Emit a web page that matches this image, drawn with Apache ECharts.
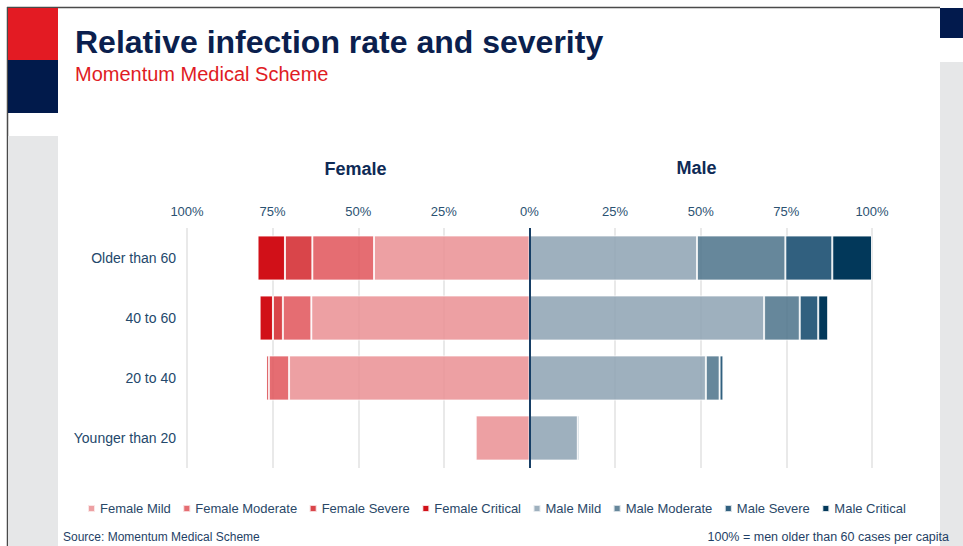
<!DOCTYPE html>
<html>
<head>
<meta charset="utf-8">
<script src="https://cdn.jsdelivr.net/npm/echarts@6/dist/echarts.min.js"></script>
<style>
html,body{margin:0;padding:0;background:#fff;}
#chart{width:963px;height:546px;}
</style>
</head>
<body>
<div id="chart"></div>
<script>
// ---- data ----
const categories = ['Older than 60', '40 to 60', '20 to 40', 'Younger than 20'];
const femaleMild     = [45.4, 63.7, 70.2, 15.7];
const femaleModerate = [18.0, 8.3, 5.9, 0.3];
const femaleSevere   = [8.0, 2.9, 0.8, 0];
const femaleCritical = [8.0, 3.9, 0, 0];
const maleMild       = [48.9, 68.5, 51.5, 14.1];
const maleModerate   = [25.8, 10.4, 4.0, 0.5];
const maleSevere     = [13.7, 5.4, 1.1, 0];
const maleCritical   = [11.6, 2.9, 0.2, 0];

const FONT = '"Liberation Sans", Arial, sans-serif';
const chart = echarts.init(document.getElementById('chart'), null, {renderer: 'svg'});

function bar(name, values, color, opacity, stack, neg, withZero) {
  const s = {
    name: name,
    type: 'bar',
    stack: stack,
    barWidth: '75%',
    barGap: '-100%',
    data: values.map(v => neg ? -v : v),
    itemStyle: {color: color, opacity: opacity, borderColor: 'rgba(255,255,255,0.85)', borderWidth: 1},
    emphasis: {disabled: true}
  };
  if (withZero) {
    s.markLine = {
      silent: true, symbol: 'none', label: {show: false},
      lineStyle: {color: '#173f66', width: 2, type: 'solid'},
      data: [{xAxis: 0}]
    };
  }
  return s;
}

const option = {
  animation: false,
  backgroundColor: '#ffffff',
  textStyle: {fontFamily: FONT},
  grid: {left: 187, right: 91, top: 228, bottom: 78},
  xAxis: {
    type: 'value', position: 'top', min: -100, max: 100, interval: 25,
    axisLine: {show: false}, axisTick: {show: false},
    axisLabel: {formatter: v => Math.abs(v) + '%', fontSize: 13, color: '#2b5272', margin: 10, fontFamily: FONT},
    splitLine: {lineStyle: {color: '#e2e2e2', width: 1.5}}
  },
  yAxis: {
    type: 'category', inverse: true, data: categories,
    axisLine: {show: false}, axisTick: {show: false},
    axisLabel: {fontSize: 14, color: '#23486b', margin: 11, fontFamily: FONT}
  },
  legend: {
    left: 82, top: 497, icon: 'rect', itemWidth: 7, itemHeight: 7, itemGap: 11.5,
    textStyle: {fontSize: 13, color: '#2a4868', fontFamily: FONT},
    data: ['Female Mild', 'Female Moderate', 'Female Severe', 'Female Critical',
           'Male Mild', 'Male Moderate', 'Male Severe', 'Male Critical']
  },
  series: [
    bar('Female Mild', femaleMild, '#ea8f93', 0.85, 'f', true, false),
    bar('Female Moderate', femaleModerate, '#e05459', 0.85, 'f', true, false),
    bar('Female Severe', femaleSevere, '#d6353b', 0.92, 'f', true, false),
    bar('Female Critical', femaleCritical, '#d11018', 1, 'f', true, false),
    bar('Male Mild', maleMild, '#8da2b3', 0.85, 'm', false, false),
    bar('Male Moderate', maleModerate, '#4b7289', 0.85, 'm', false, false),
    bar('Male Severe', maleSevere, '#1f5274', 0.92, 'm', false, false),
    bar('Male Critical', maleCritical, '#02385a', 1, 'm', false, true)
  ],
  graphic: [
    // frame lines
    {type: 'line', shape: {x1: 7, y1: 7.5, x2: 940, y2: 7.5}, style: {stroke: '#4a4a4a', lineWidth: 1.5}, silent: true},
    {type: 'line', shape: {x1: 7.5, y1: 7, x2: 7.5, y2: 546}, style: {stroke: '#4a4a4a', lineWidth: 1.5}, silent: true},
    // left decorations
    {type: 'rect', shape: {x: 8, y: 8, width: 50, height: 52}, style: {fill: '#e31b23'}, silent: true},
    {type: 'rect', shape: {x: 8, y: 60, width: 50, height: 53}, style: {fill: '#011a4b'}, silent: true},
    {type: 'rect', shape: {x: 8, y: 136, width: 50, height: 410}, style: {fill: '#e6e7e8'}, silent: true},
    // right decorations
    {type: 'rect', shape: {x: 940, y: 8, width: 23, height: 30}, style: {fill: '#021a4d'}, silent: true},
    {type: 'rect', shape: {x: 940, y: 62, width: 23, height: 484}, style: {fill: '#e6e7e8'}, silent: true},
    // titles
    {type: 'text', left: 75, top: 26, style: {text: 'Relative infection rate and severity', fill: '#0b1f4e', font: 'bold 32px ' + FONT}, silent: true},
    {type: 'text', left: 75, top: 64, style: {text: 'Momentum Medical Scheme', fill: '#e01b24', font: '20px ' + FONT}, silent: true},
    // panel headers
    {type: 'text', x: 355.5, y: 169, style: {text: 'Female', fill: '#0e2a55', font: 'bold 18px ' + FONT, align: 'center', verticalAlign: 'middle'}, silent: true},
    {type: 'text', x: 696.5, y: 168, style: {text: 'Male', fill: '#0e2a55', font: 'bold 18px ' + FONT, align: 'center', verticalAlign: 'middle'}, silent: true},
    // footer
    {type: 'text', x: 63, y: 537, style: {text: 'Source: Momentum Medical Scheme', fill: '#1f3f66', font: '12px ' + FONT, align: 'left', verticalAlign: 'middle'}, silent: true},
    {type: 'text', x: 949, y: 537, style: {text: '100% = men older than 60 cases per capita', fill: '#1f3f66', font: '12.5px ' + FONT, align: 'right', verticalAlign: 'middle'}, silent: true}
  ]
};
chart.setOption(option);
</script>
</body>
</html>
